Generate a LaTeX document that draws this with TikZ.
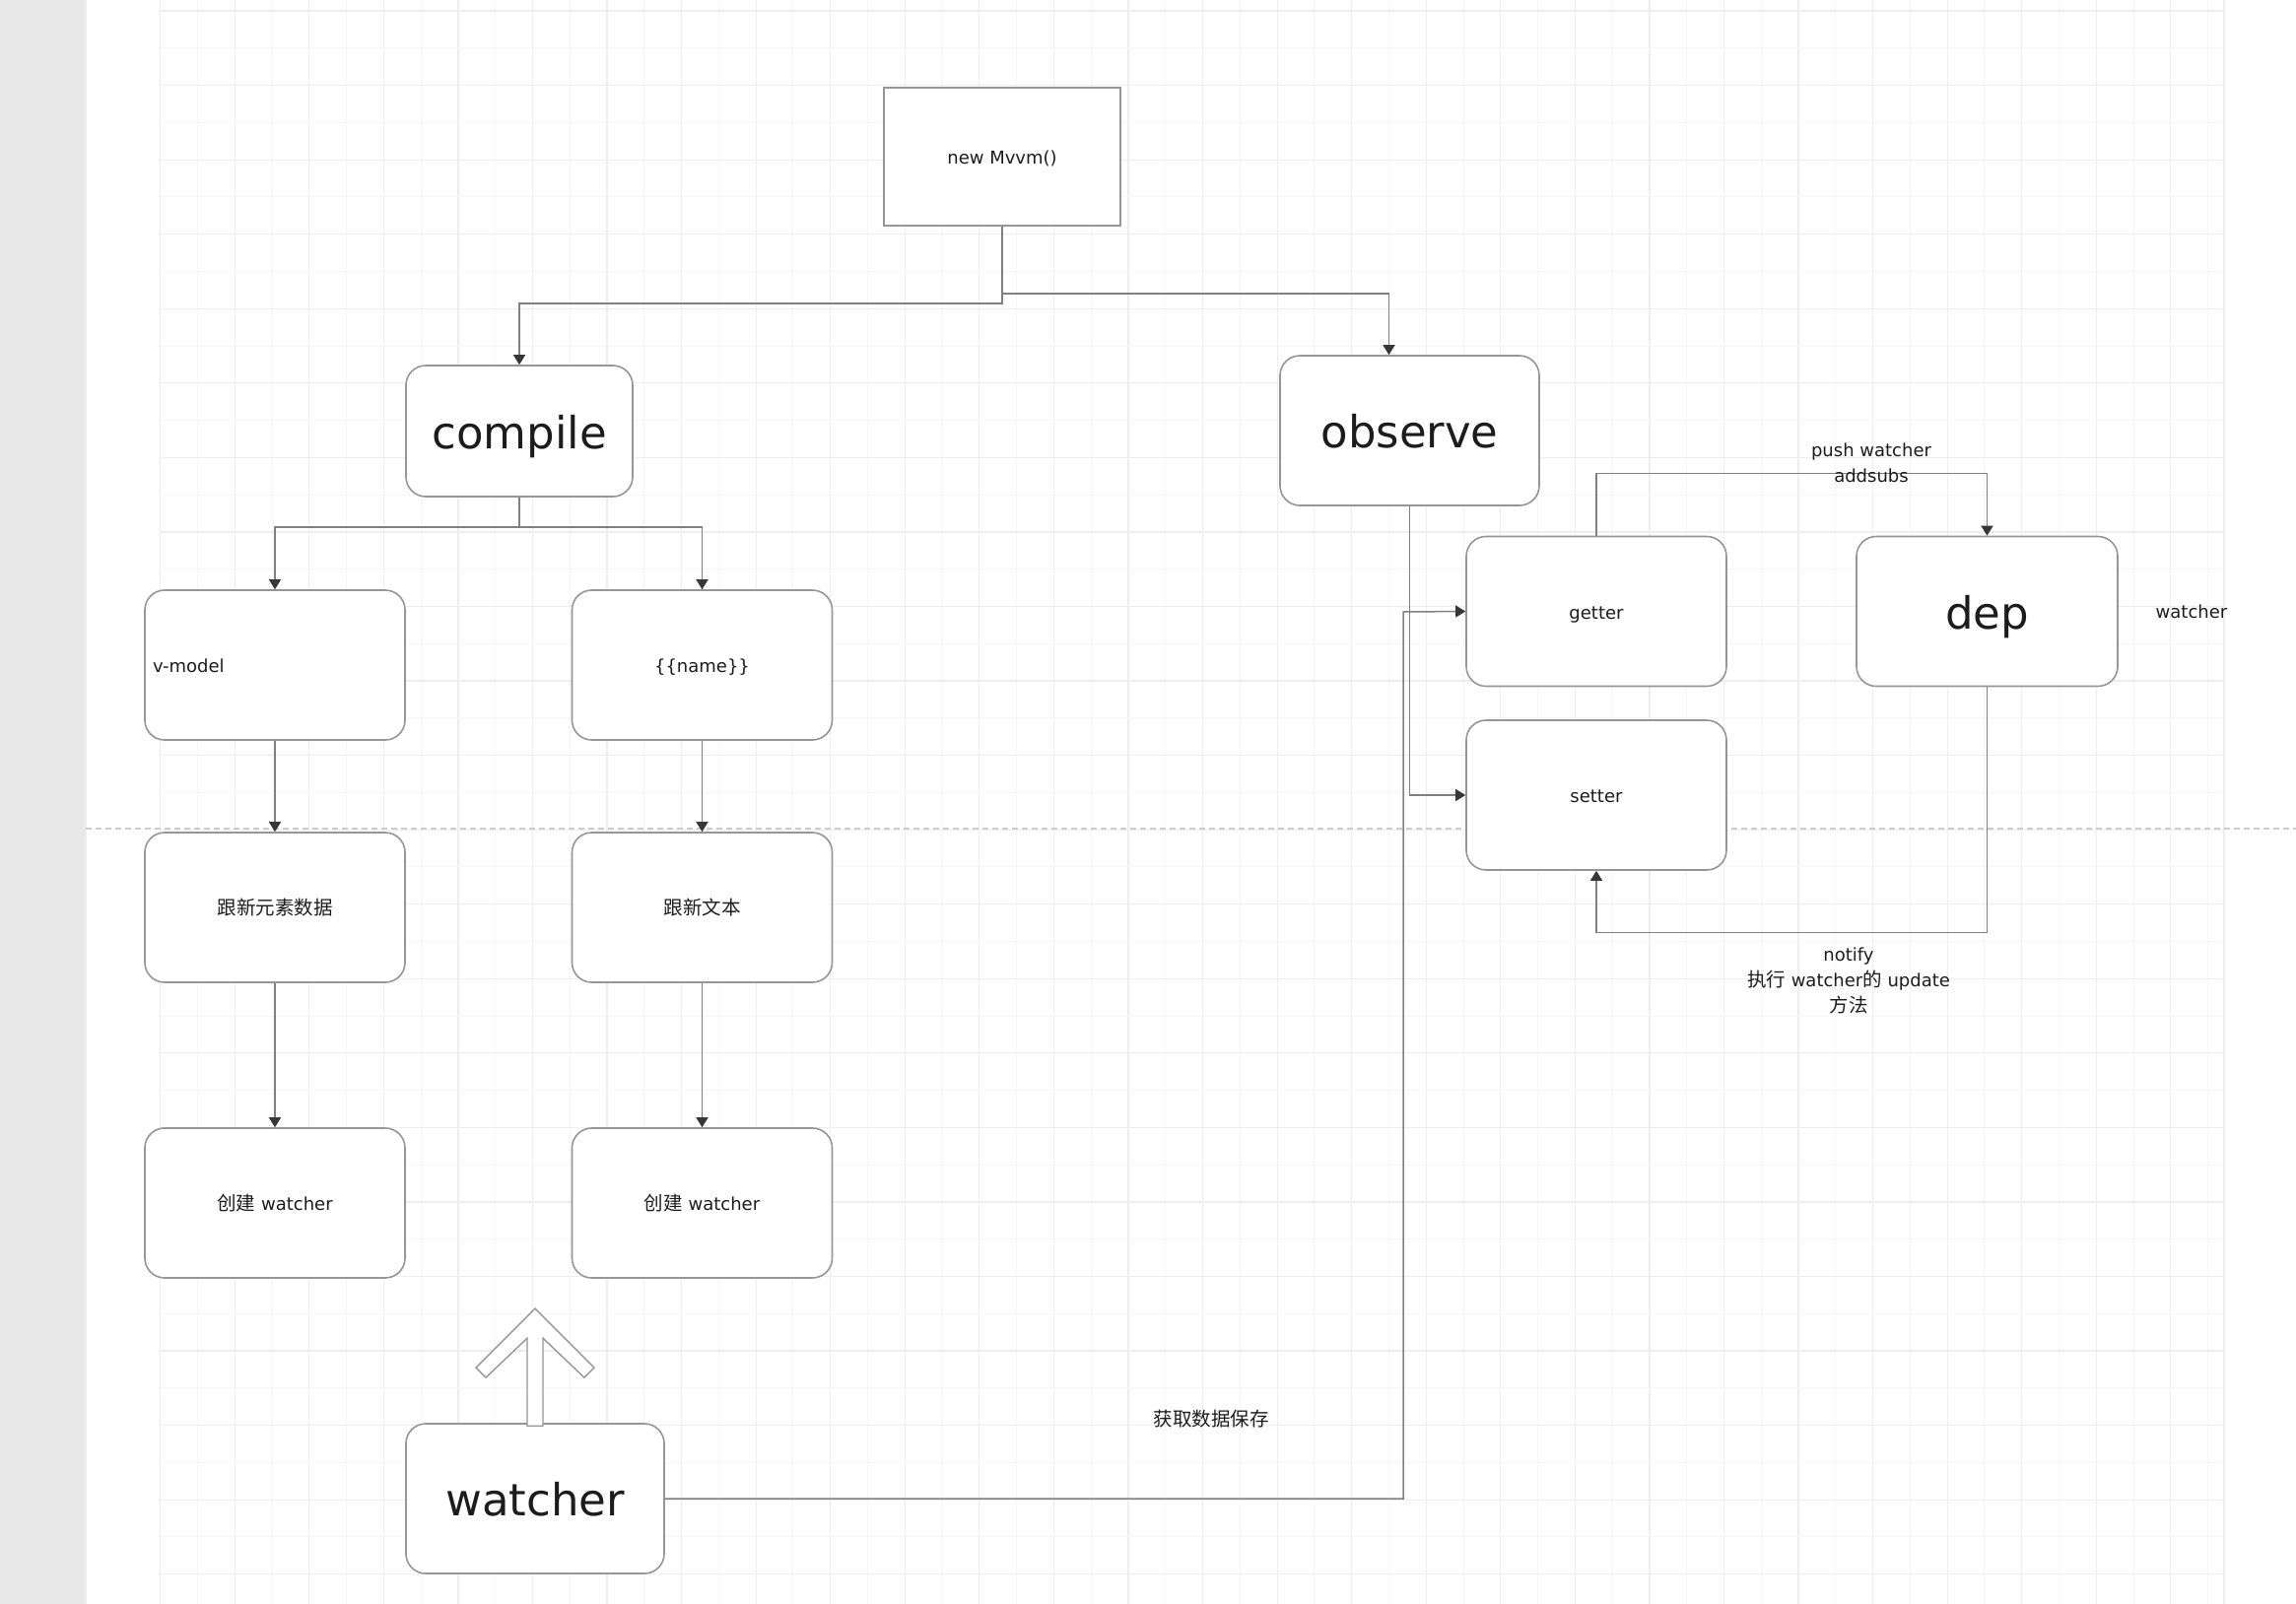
\documentclass[tikz,border=0pt]{standalone}
\usepackage{fontspec}
\setmainfont{DejaVu Sans}
\newfontfamily\cjk{Noto Sans CJK SC}
\usepackage{tikz}
\usetikzlibrary{arrows.meta, calc, positioning}

\definecolor{linegray}{RGB}{128,128,128}
\definecolor{boxgray}{RGB}{150,150,150}
\definecolor{tipdark}{RGB}{55,55,55}
\definecolor{inkdark}{RGB}{28,28,28}
\definecolor{gridbold}{RGB}{238,238,238}
\definecolor{gridlight}{RGB}{246,246,246}
\definecolor{sidegray}{RGB}{232,232,232}

\newcommand{\zh}[1]{{\cjk\fontsize{19.5}{24}\selectfont #1}}

\tikzset{
	box/.style={draw=boxgray, line width=1.6pt, rounded corners=20pt, fill=white,
		minimum width=264pt, minimum height=152pt, inner sep=0pt,
		text height=16.2pt, text depth=1.2pt,
		text=inkdark, font=\fontsize{18}{22}\selectfont},
	sqbox/.style={box, rounded corners=0pt, minimum width=240pt, minimum height=140pt},
	bigbox/.style={box, text height=40.5pt, text depth=5.4pt, font=\fontsize{45}{54}\selectfont},
	note/.style={text=inkdark, font=\fontsize{18}{26}\selectfont, align=center, inner sep=0pt},
	link/.style={draw=linegray, line width=1.5pt,
		-{Triangle[length=10pt, width=12pt, color=tipdark]}},
	fatarrow/.style={draw=boxgray, line width=1.4pt, fill=white, line join=miter}
}

\begin{document}
\begin{tikzpicture}[x=1pt, y=-1pt]
		\useasboundingbox (0,0) rectangle (2330,1628);
		\fill[white] (0,0) rectangle (2330,1628);
		\fill[sidegray] (0,0) rectangle (87,1628);
		\draw[gridbold, line width=1.4pt] (87,0) -- (87,1628);
% grid
\foreach \k in {0,...,55}
	{\pgfmathsetmacro\gx{162.7+37.78*\k}
	\ifodd\k
		\draw[gridlight, line width=1pt] (\gx,0) -- (\gx,1628);
	\else
		\draw[gridbold, line width=1.2pt] (\gx,0) -- (\gx,1628);
	\fi}
\foreach \k in {0,...,42}
	{\pgfmathsetmacro\gy{11+37.78*\k}
	\ifodd\k
		\draw[gridlight, line width=1pt] (163,\gy) -- (2257,\gy);
	\else
		\draw[gridbold, line width=1.2pt] (163,\gy) -- (2257,\gy);
	\fi}
		\draw[gridbold, line width=1.2pt] (2257,0) -- (2257,1628);
		\draw[gray!40, line width=1.2pt, dash pattern=on 6pt off 4pt] (87,841) -- (2330,841);

% boxes
		\node[sqbox] (mvvm) at (1017,159) {new Mvvm()};
		\node[bigbox, minimum width=230pt, minimum height=133pt] (compile) at (527,437.5) {compile};
		\node[bigbox, minimum width=263pt] (observe) at (1430.5,437) {observe};
		\node[box, text width=248pt, inner xsep=8pt, align=left] (vmodel) at (279,675) {v-model};
		\node[box] (tmpl) at (712.5,675) {\{\{name\}\}};
		\node[box] (updnode) at (279,921) {\zh{跟新元素数据}};
		\node[box] (updtext) at (712.5,921) {\zh{跟新文本}};
		\node[box] (mkwatch1) at (279,1221) {\zh{创建} watcher};
		\node[box] (mkwatch2) at (712.5,1221) {\zh{创建} watcher};
		\node[bigbox, minimum width=262pt] (watcher) at (543,1521) {watcher};
		\node[box] (getter) at (1620,620.5) {getter};
		\node[box] (setter) at (1620,807) {setter};
		\node[bigbox, minimum width=265pt] (dep) at (2016.5,620.5) {dep};
		\node[note] (subs) at (2224,621) {watcher};

% connectors
		\draw[link] (mvvm.south) -- ++(0,78) -| (compile.north);
		\draw[link] (mvvm.south) -- ++(0,68) -| ([xshift=-21pt]observe.north);
		\draw[link] (compile.south) -- ++(0,30) -| (vmodel.north);
		\draw[link] (compile.south) -- ++(0,30) -| (tmpl.north);
		\draw[link] (vmodel) -- (updnode);
		\draw[link] (tmpl) -- (updtext);
		\draw[link] (updnode) -- (mkwatch1);
		\draw[link] (updtext) -- (mkwatch2);
		\coordinate (wbend) at (1424,621);
		\draw[link] (watcher.east) -| (wbend) -- (getter.west);
		\draw[link] (observe.south) |- (setter.west);
		\draw[link] (getter.north) -- ++(0,-63) -| (dep.north);
		\draw[link] (dep.south) -- ++(0,249) -| (setter.south);

% hollow arrow over watcher
	\begin{scope}[shift={(watcher.north)}]
		\draw[fatarrow] (0,-116) -- (60,-56) -- (50,-46) -- (8,-86) -- (8,3)
			-- (-8,3) -- (-8,-86) -- (-50,-46) -- (-60,-56) -- cycle;
	\end{scope}

% labels
		\node[note] (pushlbl) at (1899,470) {push watcher\\addsubs};
		\node[note] (notifylbl) at (1876,995) {notify\\\zh{执行} watcher\zh{的} update\\\zh{方法}};
		\node[note] (savelbl) at (1229,1440) {\zh{获取数据保存}};

\end{tikzpicture}
\end{document}
